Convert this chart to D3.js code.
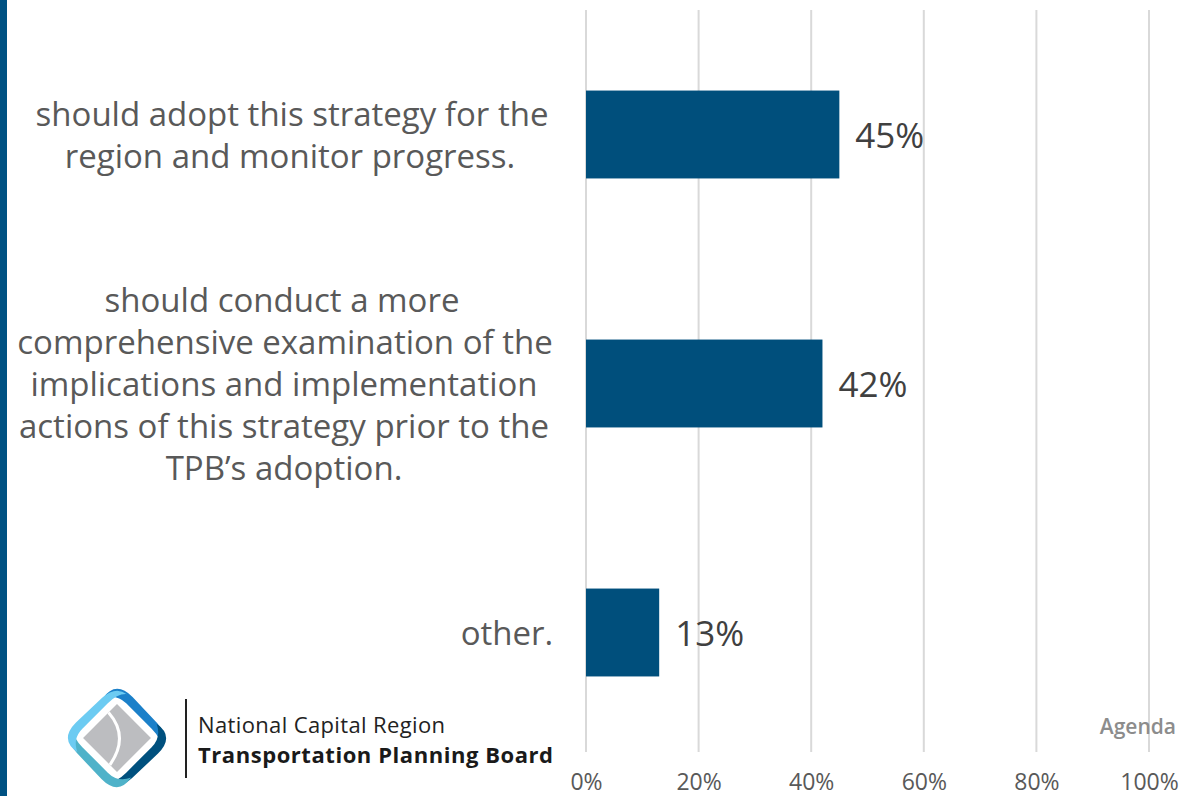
<!DOCTYPE html>
<html>
<head>
<meta charset="utf-8">
<script src="https://cdn.jsdelivr.net/npm/d3@7"></script>
<style>
  body { margin: 0; background: #fff; }
  svg { display: block; }
</style>
</head>
<body>
<div id="chart"></div>
<script>
// data
var categories = ["adopt", "examine", "other"];
var labelLines = [
  ["should adopt this strategy for the", "region and monitor progress."],
  ["should conduct a more", "comprehensive examination of the", "implications and implementation", "actions of this strategy prior to the", "TPB\u2019s adoption."],
  ["other."]
];
var values = [45, 42, 13];
var tickValues = [0, 20, 40, 60, 80, 100];

var W = 1179, H = 796;
var margin = {left: 586, right: 30, top: 10, bottom: 39};
var font = "'Open Sans', 'Liberation Sans', sans-serif";

var svg = d3.select("#chart").append("svg")
  .attr("width", W).attr("height", H);

// left accent stripe
svg.append("rect").attr("x", 0).attr("y", 0).attr("width", 7).attr("height", H).attr("fill", "#005283");

var x = d3.scaleLinear().domain([0, 100]).range([margin.left, 1149]);
var y = d3.scaleBand().domain(categories).range([margin.top, 757])
  .paddingInner(0.647).paddingOuter(0.3235);

// gridlines
svg.append("g").selectAll("line").data(tickValues).enter().append("line")
  .attr("x1", function(d) { return x(d); }).attr("x2", function(d) { return x(d); })
  .attr("y1", margin.top).attr("y2", 752)
  .attr("stroke", "#d9d9d9").attr("stroke-width", 2);

// tick labels
var axis = svg.append("g")
  .attr("transform", "translate(0,790)")
  .call(d3.axisBottom(x).tickValues(tickValues).tickSize(0).tickPadding(0).tickFormat(function(d) { return d + "%"; }));
axis.select(".domain").remove();
axis.selectAll("text")
  .attr("font-family", font)
  .attr("font-size", 23).attr("fill", "#595959").attr("dy", "0");

// bars
svg.append("g").selectAll("rect").data(values).enter().append("rect")
  .attr("x", x(0))
  .attr("y", function(d, i) { return y(categories[i]); })
  .attr("width", function(d) { return x(d) - x(0); })
  .attr("height", y.bandwidth())
  .attr("fill", "#004f7c");

// value labels
svg.append("g").selectAll("text").data(values).enter().append("text")
  .attr("x", function(d) { return x(d) + 16; })
  .attr("y", function(d, i) { return y(categories[i]) + y.bandwidth() / 2 + 13; })
  .attr("font-family", font)
  .attr("font-size", 35).attr("fill", "#404040")
  .text(function(d) { return d + "%"; });

// category labels (centred lines like the original)
var lineH = 42;
var labelCenters = [[292, 290], [282, 285, 284, 284, 284], [507]];
labelLines.forEach(function(lines, i) {
  var cy = y(categories[i]) + y.bandwidth() / 2;
  var t = svg.append("text")
    .attr("font-family", font)
    .attr("font-size", 33).attr("fill", "#595959")
    .attr("text-anchor", "middle");
  lines.forEach(function(line, j) {
    t.append("tspan")
      .attr("x", labelCenters[i][j])
      .attr("y", cy + (j - (lines.length - 1) / 2) * lineH + 12)
      .text(line);
  });
});

// Agenda
svg.append("text").attr("x", 1176).attr("y", 734).attr("text-anchor", "end")
  .attr("font-family", font).attr("font-weight", 600)
  .attr("font-size", 21).attr("fill", "#8c8c8c").text("Agenda");

// logo
var logo = svg.append("g").attr("transform", "translate(117,738) rotate(45)");
logo.append("rect").attr("x", -24).attr("y", -24).attr("width", 48).attr("height", 48).attr("fill", "#bcbdc0");
logo.append("path").attr("d", "M-24,-12 Q8,-10 14,24").attr("stroke", "#fff").attr("stroke-width", 3).attr("fill", "none");
var swoosh = "M-38,-18 Q-42,-40 -18,-40 L18,-39 Q36,-38 38,-24 Q32,-31 18,-31 L-18,-31 Q-32,-31 -38,-18 Z";
var swooshColors = ["#1b80c9", "#00507e", "#4fb2c9", "#6ccbf2"];
swooshColors.forEach(function(c, i) {
  logo.append("path").attr("d", swoosh).attr("fill", c).attr("transform", "rotate(" + (i * 90) + ")");
});
svg.append("line").attr("x1", 186).attr("x2", 186).attr("y1", 699).attr("y2", 778)
  .attr("stroke", "#222").attr("stroke-width", 2);
svg.append("text").attr("x", 198).attr("y", 733)
  .attr("font-family", font).attr("font-size", 22).attr("fill", "#222")
  .attr("textLength", 247).text("National Capital Region");
svg.append("text").attr("x", 198).attr("y", 763)
  .attr("font-family", font).attr("font-weight", "bold").attr("font-size", 22).attr("fill", "#1a1a1a")
  .attr("textLength", 355).text("Transportation Planning Board");
</script>
</body>
</html>
